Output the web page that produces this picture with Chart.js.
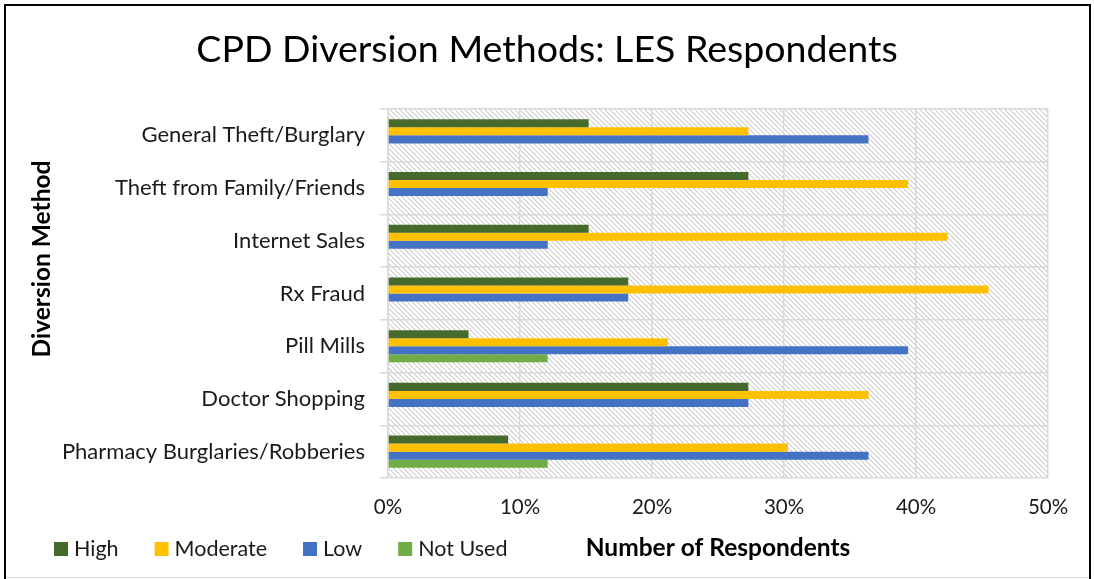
<!DOCTYPE html>
<html>
<head>
<meta charset="utf-8">
<title>CPD Diversion Methods: LES Respondents</title>
<script src="https://cdn.jsdelivr.net/npm/chart.js@4.4.1/dist/chart.umd.min.js"></script>
<style>
  html, body { margin: 0; padding: 0; background: #ffffff; }
  #wrap { position: relative; width: 1094px; height: 579px; }
  canvas { display: block; }
</style>
</head>
<body>
<div id="wrap"><canvas id="chart" width="1094" height="579"></canvas></div>
<script>
// Diversion methods (top to bottom)
const categories = [
  'General Theft/Burglary',
  'Theft from Family/Friends',
  'Internet Sales',
  'Rx Fraud',
  'Pill Mills',
  'Doctor Shopping',
  'Pharmacy Burglaries/Robberies'
];

// Share of respondents (%) per rating
const high     = [15.2, 27.3, 15.2, 18.2,  6.1, 27.3,  9.1];
const moderate = [27.3, 39.4, 42.4, 45.5, 21.2, 36.4, 30.3];
const low      = [36.4, 12.1, 12.1, 18.2, 39.4, 27.3, 36.4];
const notUsed  = [ 0.0,  0.0,  0.0,  0.0, 12.1,  0.0, 12.1];

const seriesNames  = ['High', 'Moderate', 'Low', 'Not Used'];
const seriesColors = ['#466a2b', '#ffc000', '#4472c4', '#70ad47'];

// x axis: 0% .. 50% in steps of 10
const xMin = 0, xMax = 50, xStep = 10;

const FONT = 'Lato, "Open Sans", sans-serif';
const PAD = { top: 109, right: 46, bottom: 40, left: 10 };

// light diagonal hatch used behind the bars
function makeHatch() {
  const n = 5;
  const c = document.createElement('canvas');
  c.width = n; c.height = n;
  const g = c.getContext('2d');
  g.fillStyle = '#ffffff';
  g.fillRect(0, 0, n, n);
  for (let i = 0; i < n; i++) {
    g.fillStyle = '#cdcdcd';
    g.fillRect(i, i, 1, 1);
    g.fillStyle = '#e9e9e9';
    g.fillRect((i + 1) % n, i, 1, 1);
  }
  return c;
}

const decorations = {
  id: 'decorations',
  beforeDraw(chart) {
    const { ctx, chartArea: a } = chart;
    ctx.save();
    ctx.fillStyle = '#ffffff';
    ctx.fillRect(0, 0, chart.width, chart.height);
    ctx.fillStyle = ctx.createPattern(makeHatch(), 'repeat');
    ctx.fillRect(a.left, a.top, a.right - a.left, a.bottom - a.top);
    ctx.restore();
  },
  afterDraw(chart) {
    const { ctx, chartArea: a } = chart;
    ctx.save();

    // title
    ctx.fillStyle = '#000000';
    ctx.font = '37.5px ' + FONT;
    ctx.textAlign = 'center';
    ctx.textBaseline = 'middle';
    ctx.fillText('CPD Diversion Methods: LES Respondents', chart.width / 2, 50);

    // axis titles
    ctx.font = 'bold 24.5px ' + FONT;
    ctx.fillText('Number of Respondents', (a.left + a.right) / 2, 548);
    ctx.save();
    ctx.translate(42, 259);
    ctx.rotate(-Math.PI / 2);
    ctx.fillText('Diversion Method', 0, 0);
    ctx.restore();

    // legend
    ctx.font = '21.5px ' + FONT;
    ctx.textAlign = 'left';
    let x = 54;
    chart.data.datasets.forEach(ds => {
      ctx.fillStyle = ds.backgroundColor;
      ctx.fillRect(x, 542, 14, 14);
      ctx.fillStyle = '#1a1a1a';
      ctx.fillText(ds.label, x + 20, 549);
      x += 20 + ctx.measureText(ds.label).width + 36;
    });

    // outer frame
    ctx.strokeStyle = '#000000';
    ctx.lineWidth = 2;
    ctx.beginPath();
    ctx.moveTo(5, 579);
    ctx.lineTo(5, 5);
    ctx.lineTo(1090, 5);
    ctx.lineTo(1090, 579);
    ctx.stroke();
    ctx.strokeStyle = '#d9d9d9';
    ctx.lineWidth = 1;
    ctx.beginPath();
    ctx.moveTo(6, 577.5);
    ctx.lineTo(1089, 577.5);
    ctx.stroke();
    ctx.restore();
  }
};

const seriesData = [high, moderate, low, notUsed];

new Chart(document.getElementById('chart'), {
  type: 'bar',
  data: {
    labels: categories,
    datasets: seriesNames.map((name, i) => ({
      label: name,
      data: seriesData[i],
      backgroundColor: seriesColors[i],
      borderWidth: 0,
      categoryPercentage: 0.61,
      barPercentage: 1.0
    }))
  },
  options: {
    indexAxis: 'y',
    responsive: false,
    animation: false,
    devicePixelRatio: 1,
    layout: { padding: PAD },
    plugins: {
      legend: { display: false },
      title: { display: false },
      tooltip: { enabled: false }
    },
    scales: {
      x: {
        min: xMin,
        max: xMax,
        ticks: {
          stepSize: xStep,
          callback: v => v + '%',
          font: { family: FONT, size: 20.5 },
          color: '#1a1a1a',
          padding: 17,
          maxRotation: 0
        },
        grid: { color: '#d9d9d9', lineWidth: 1.5, drawTicks: false },
        border: { display: false },
        afterFit: s => { s.height = 579 - 478 - PAD.bottom; }
      },
      y: {
        ticks: {
          font: { family: FONT, size: 22 },
          color: '#1a1a1a',
          padding: 15
        },
        grid: { color: '#d9d9d9', lineWidth: 1.5, tickLength: 8, offset: true },
        border: { color: '#d9d9d9', width: 1.5 },
        afterFit: s => { s.width = 388 - PAD.left; }
      }
    }
  },
  plugins: [decorations]
});
</script>
</body>
</html>
